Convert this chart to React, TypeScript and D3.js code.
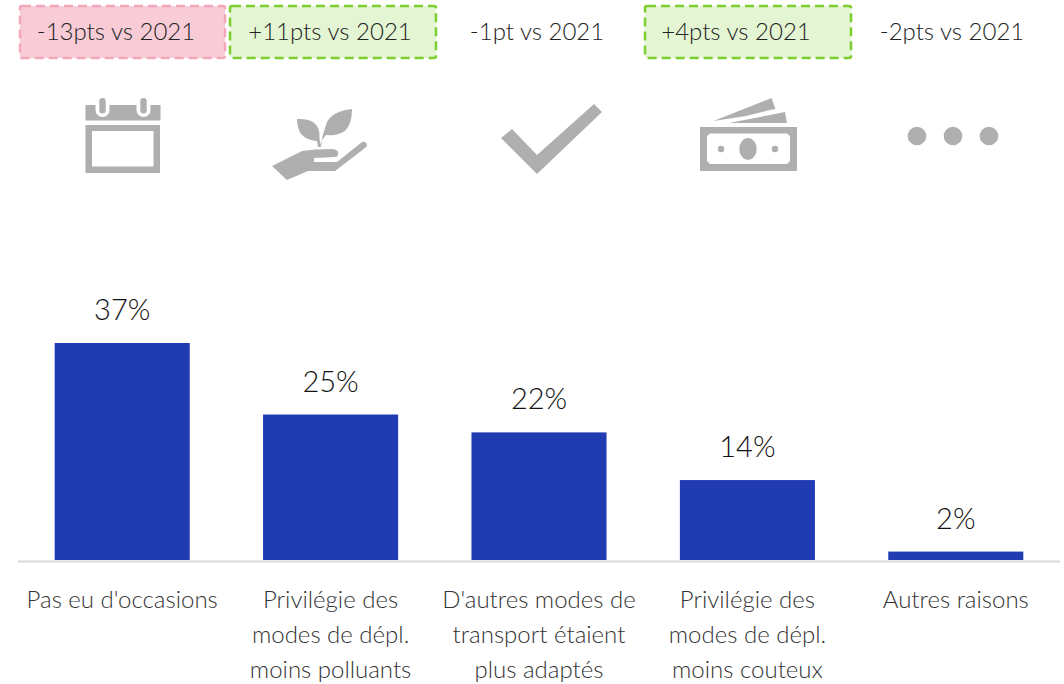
import React from "react";
import * as d3 from "d3";

const categories = [
  ["Pas eu d'occasions"],
  ["Privilégie des", "modes de dépl.", "moins polluants"],
  ["D'autres modes de", "transport étaient", "plus adaptés"],
  ["Privilégie des", "modes de dépl.", "moins couteux"],
  ["Autres raisons"],
];
const values = [37, 25, 22, 14, 2];
const changes = ["-13pts vs 2021", "+11pts vs 2021", "-1pt vs 2021", "+4pts vs 2021", "-2pts vs 2021"];
const changeKinds = ["down", "up", "none", "up", "none"];

const width = 1064;
const height = 684;
const font = "Lato, sans-serif";
const iconGrey = "#afafaf";
const boxStyles: Record<string, { fill: string; stroke: string }> = {
  down: { fill: "#f7ccd6", stroke: "#f4a7bb" },
  up: { fill: "#e3f5d3", stroke: "#7dcf30" },
};
const boxes: Record<number, [number, number]> = { 0: [20, 225], 1: [230, 436], 3: [645, 851] };
const changeX = [116, 330, 537, 736, 952];
const baseline = 560;

const x = d3.scaleBand<number>()
  .domain(d3.range(values.length))
  .range([18, 1060])
  .paddingInner(0.352)
  .paddingOuter(0.176);
const y = d3.scaleLinear().domain([0, 37]).range([563.5, 343]);

const Calendar = () => (
  <g fill={iconGrey}>
    <rect x={85.5} y={105} width={75} height={15.5} />
    <path fillRule="evenodd" d="M85.5 125H160V173H85.5ZM92 131V166.5H153.5V131Z" />
    {[102.5, 143.5].map(cx => (
      <g key={cx}>
        <path d={`M${cx - 7} 105V110a7 7 0 0 0 14 0V105Z`} fill="#fff" />
        <rect x={cx - 3.2} y={98} width={6.4} height={15.5} rx={3.2} />
      </g>
    ))}
  </g>
);

const Plant = () => (
  <g fill={iconGrey}>
    <path d="M272 166L302 151Q314 149 333 149Q339 150 338 154Q338 157 335 157L314 158V162H337L362 142Q366 141 367 145Q367 147 365 148L335 171H308L287 180Z" />
    <path d="M297 119Q312 118 317 126Q320 131 319.5 139L321 147H318L317 141Q306 140 301 134Q297 128 297 119Z" />
    <path d="M352 109Q352 124 345 131Q338 136 326 135L322 140L321 147H320Q323 133 327 122Q333 111 352 109Z" />
  </g>
);

const Check = () => (
  <path fill={iconGrey} d="M501 138L512 129L537 155L594 104L602 112L537 174Z" />
);

const Money = () => (
  <g fill={iconGrey}>
    <path d="M713.5 121L771.5 98L775.5 109L770 110L746 116Z" />
    <path d="M729 123L785 112L787 123H763L729 123Z" />
    <path fillRule="evenodd" d="M700 127H797V171H700ZM710 133.5L707 136V161L710 164H787L790 161V136L787 133.5Z" />
    <ellipse cx={748} cy={149} rx={8.7} ry={11} />
    <circle cx={721} cy={149} r={3.2} />
    <circle cx={775} cy={149} r={3.2} />
  </g>
);

const Dots = () => (
  <g fill={iconGrey}>
    {[917, 953, 989].map(cx => <circle key={cx} cx={cx} cy={136} r={9.3} />)}
  </g>
);

export default function App() {
  return (
    <svg width={width} height={height} style={{ position: "absolute", left: 0, top: 0 }} fontFamily={font} fontWeight={300}>
      <rect width={width} height={height} fill="#fff" />
      {changes.map((c, i) => {
        const box = boxes[i];
        const st = boxStyles[changeKinds[i]];
        return (
          <g key={c}>
            {box && st && (
              <rect x={box[0]} y={6} width={box[1] - box[0]} height={52} rx={2} fill={st.fill} stroke={st.stroke} strokeWidth={2.5} strokeDasharray="9 5" />
            )}
            <text x={changeX[i]} y={40} fontSize={24} textAnchor="middle" fill="#222">{c}</text>
          </g>
        );
      })}
      <Calendar />
      <Plant />
      <Check />
      <Money />
      <Dots />
      {values.map((v, i) => (
        <g key={i}>
          <rect x={x(i)} y={y(v)} width={x.bandwidth()} height={baseline - y(v)} fill="#213bb3" />
          <text x={x(i)! + x.bandwidth() / 2} y={y(v) - 23} fontSize={29} textAnchor="middle" fill="#111">{v}%</text>
          {categories[i].map((line, j) => (
            <text key={j} x={x(i)! + x.bandwidth() / 2} y={608 + j * 35} fontSize={24} textAnchor="middle" fill="#333">{line}</text>
          ))}
        </g>
      ))}
      <line x1={18} x2={1060} y1={561.5} y2={561.5} stroke="#d9d9d9" strokeWidth={2} />
    </svg>
  );
}
